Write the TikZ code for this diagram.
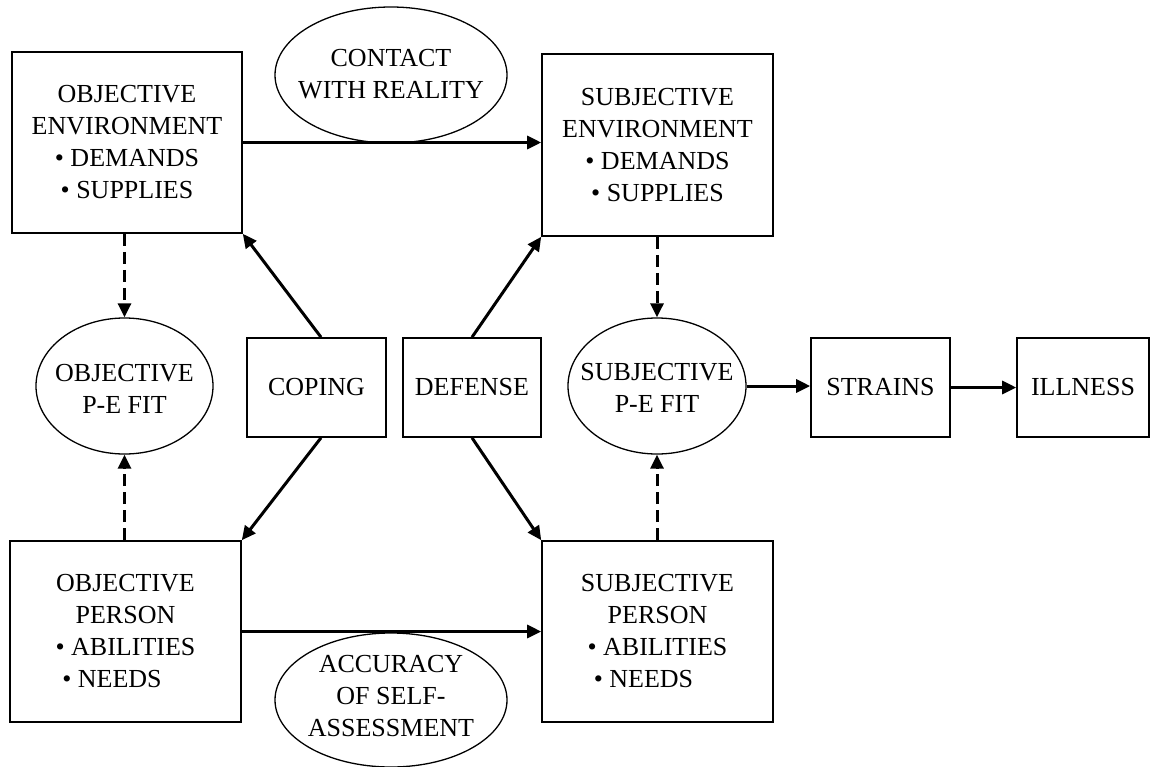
\documentclass[tikz,border=0pt]{standalone}
\usepackage{fontspec}
\setmainfont{Liberation Serif}
\usetikzlibrary{arrows.meta,shapes.geometric}
\begin{document}
\begin{tikzpicture}[x=1pt,y=-1pt,
  box/.style={draw, line width=1.6pt, inner sep=0pt, align=center, font=\fontsize{26}{32}\selectfont},
  oval/.style={draw, ellipse, line width=1.3pt, inner sep=0pt},
  lbl/.style={align=center, inner sep=0pt, font=\fontsize{26}{32}\selectfont},
  arr/.style={line width=3pt, -{Triangle[length=14pt,width=13pt]}},
  darr/.style={arr, dash pattern=on 12pt off 6pt}
]
\useasboundingbox (0,0) rectangle (1151,766);

% boxes
\node[box, minimum width=230pt, minimum height=181pt] (OE) at (127,142.5) {OBJECTIVE\\ENVIRONMENT\\• DEMANDS\\• SUPPLIES};
\node[box, minimum width=231pt, minimum height=182pt] (SE) at (657.5,145) {SUBJECTIVE\\ENVIRONMENT\\• DEMANDS\\• SUPPLIES};
\node[box, minimum width=231pt, minimum height=181pt] (OP) at (125.5,631.5) {OBJECTIVE\\PERSON\\• ABILITIES\\• NEEDS\hspace*{27pt}};
\node[box, minimum width=231pt, minimum height=181pt] (SP) at (657.5,631.5) {SUBJECTIVE\\PERSON\\• ABILITIES\\• NEEDS\hspace*{28pt}};
\node[box, minimum width=139pt, minimum height=99pt] (CO) at (316.5,387.5) {COPING};
\node[box, minimum width=138pt, minimum height=99pt] (DE) at (472,387.5) {DEFENSE};
\node[box, minimum width=139pt, minimum height=99pt] (ST) at (880.5,387.5) {STRAINS};
\node[box, minimum width=132pt, minimum height=99pt] (IL) at (1083,387.5) {ILLNESS};

% ovals
\node[oval, minimum width=232pt, minimum height=136pt] (CR) at (391,75) {};
\node[lbl] (CRt) at (391,74) {CONTACT\\WITH REALITY};
\node[oval, minimum width=177pt, minimum height=136pt] (opf) at (124.5,386) {};
\node[lbl] (opft) at (124.5,389) {OBJECTIVE\\P-E FIT};
\node[oval, minimum width=178pt, minimum height=136pt] (spf) at (657,386) {};
\node[lbl] (spft) at (657,388) {SUBJECTIVE\\P-E FIT};
\node[oval, minimum width=232pt, minimum height=134pt] (AC) at (391,700) {};
\node[lbl] (ACt) at (391,696) {ACCURACY\\OF SELF-\\ASSESSMENT};

% solid arrows
\draw[arr] (OE.east) -- (OE.east -| SE.west);
\draw[arr] (OP.east) -- (OP.east -| SP.west);
\draw[arr] (spf.east) -- (spf.east -| ST.west);
\draw[arr] (ST.east) -- (IL.west);
\draw[arr] ([xshift=4.5pt]CO.north) -- (OE.south east);
\draw[arr] (DE.north) -- (SE.south west);
\draw[arr] ([xshift=4.5pt]CO.south) -- (OP.north east);
\draw[arr] (DE.south) -- (SP.north west);

% dashed arrows
\draw[darr] (opf.north |- OE.south) -- (opf.north);
\draw[darr] (opf.south |- OP.north) -- (opf.south);
\draw[darr] (spf.north |- SE.south) -- (spf.north);
\draw[darr] (spf.south |- SP.north) -- (spf.south);
\end{tikzpicture}
\end{document}
